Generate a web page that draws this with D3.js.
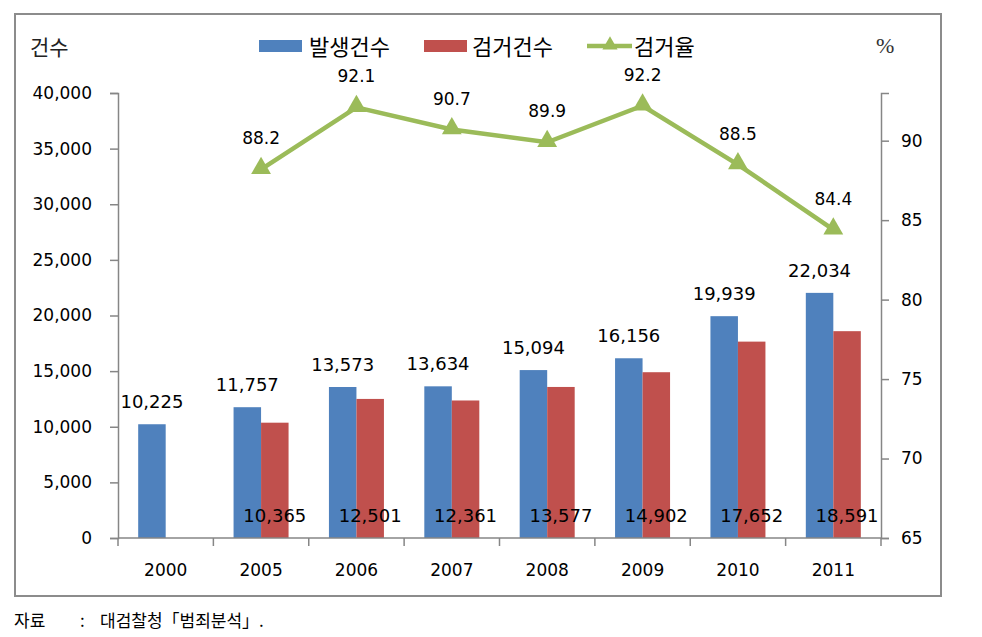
<!DOCTYPE html>
<html><head><meta charset="utf-8">
<script src="https://cdn.jsdelivr.net/npm/d3@7/dist/d3.min.js"></script>
<style>body{margin:0;background:#fff}svg{display:block}</style>
</head><body>
<svg id="c" width="982" height="637"></svg>
<script>
const years = ["2000","2005","2006","2007","2008","2009","2010","2011"];
const occurred = [10225,11757,13573,13634,15094,16156,19939,22034];
const arrested = [null,10365,12501,12361,13577,14902,17652,18591];
const rate = [null,88.2,92.1,90.7,89.9,92.2,88.5,84.4];
const leftTicks = [0,5000,10000,15000,20000,25000,30000,35000,40000];
const rightTicks = [65,70,75,80,85,90];

const svg = d3.select("#c");
const numFont = "DejaVu Sans, Verdana, sans-serif";
const krFont = "Noto Sans CJK KR, sans-serif";
const blue="#4F81BD", red="#C0504D", green="#9BBB59";

// frame
svg.append("rect").attr("x",15).attr("y",14).attr("width",926).attr("height",582)
  .attr("fill","none").attr("stroke","#8c8c8c").attr("stroke-width",2);

const L=118, R=881, T=93, B=538;
const x = d3.scaleBand().domain(years).range([L,R]);
const yL = d3.scaleLinear().domain([0,40000]).range([B,T]);
const yR = d3.scaleLinear().domain([65,93]).range([B,T]);
const fmt = d3.format(",");
const bw = 27.5;

// bars
const g = svg.append("g");
years.forEach((yr,i)=>{
  const c = x(yr)+x.bandwidth()/2;
  g.append("rect").attr("x",c-bw).attr("width",bw).attr("y",yL(occurred[i])).attr("height",B-yL(occurred[i])).attr("fill",blue);
  if(arrested[i]!=null) g.append("rect").attr("x",c).attr("width",bw).attr("y",yL(arrested[i])).attr("height",B-yL(arrested[i])).attr("fill",red);
});

// axes
const axL = svg.append("g").attr("transform",`translate(${L},0)`).call(d3.axisLeft(yL).tickValues(leftTicks).tickFormat(fmt).tickSize(8).tickPadding(18));
const axR = svg.append("g").attr("transform",`translate(${R},0)`).call(d3.axisRight(yR).tickValues(rightTicks).tickSize(8).tickPadding(12));
const axB = svg.append("g").attr("transform",`translate(0,${B})`).call(d3.axisBottom(x).tickSize(0).tickPadding(26));
[axL,axR,axB].forEach(a=>{
  a.selectAll("path,line").attr("stroke","#868686").attr("stroke-width",1.5);
  a.selectAll("text").attr("font-family",numFont).attr("font-size",17).attr("fill","#000");
});
axB.select(".domain").attr("d",`M${L},0H${R}`);
// category separator ticks
const sep = years.map(y=>x(y)).concat([R]);
axB.selectAll(".sep").data(sep).enter().append("line").attr("x1",d=>d).attr("x2",d=>d).attr("y1",0).attr("y2",8).attr("stroke","#868686").attr("stroke-width",1.5);

// line
const pts = years.map((y,i)=>({x:x(y)+x.bandwidth()/2, v:rate[i]})).filter(d=>d.v!=null);
svg.append("path").datum(pts).attr("fill","none").attr("stroke",green).attr("stroke-width",4.5)
  .attr("d",d3.line().x(d=>d.x).y(d=>yR(d.v)));
const tri = d3.symbol().type(d3.symbolTriangle).size(170);
svg.selectAll(".m").data(pts).enter().append("path").attr("d",tri).attr("fill",green)
  .attr("transform",d=>`translate(${d.x},${yR(d.v)-1})`);

// labels
const lab = svg.append("g").attr("font-family",numFont).attr("fill","#000").attr("text-anchor","middle");
years.forEach((yr,i)=>{
  const c = x(yr)+x.bandwidth()/2;
  lab.append("text").attr("x",c-bw/2).attr("y",yL(occurred[i])-16).attr("font-size",18).text(fmt(occurred[i]));
  if(arrested[i]!=null) lab.append("text").attr("x",c+bw/2).attr("y",522).attr("font-size",18).text(fmt(arrested[i]));
  if(rate[i]!=null) lab.append("text").attr("x",c).attr("y",yR(rate[i])-25).attr("font-size",17).text(rate[i].toFixed(1));
});

// unit labels
svg.append("text").attr("x",30).attr("y",55).attr("font-family",krFont).attr("font-size",21).attr("fill","#222").text("건수");
svg.append("text").attr("x",876).attr("y",53).attr("font-family","Liberation Serif, serif").attr("font-size",22).attr("fill","#333").text("%");

// legend
const lg = svg.append("g").attr("font-family",krFont).attr("font-size",22).attr("fill","#000");
lg.append("rect").attr("x",259).attr("y",40).attr("width",43).attr("height",12).attr("fill",blue);
lg.append("text").attr("x",309).attr("y",55).text("발생건수");
lg.append("rect").attr("x",424).attr("y",40).attr("width",43).attr("height",12).attr("fill",red);
lg.append("text").attr("x",472).attr("y",55).text("검거건수");
lg.append("line").attr("x1",587).attr("x2",632).attr("y1",46).attr("y2",46).attr("stroke",green).attr("stroke-width",4.5);
lg.append("path").attr("d",d3.symbol().type(d3.symbolTriangle).size(100)).attr("fill",green).attr("transform","translate(610,45)");
lg.append("text").attr("x",634).attr("y",55).text("검거율");

// source
const src = svg.append("g").attr("font-family",krFont).attr("font-size",17).attr("fill","#000");
src.append("text").attr("x",14).attr("y",627).text("자료");
src.append("text").attr("x",80).attr("y",627).text(":");
src.append("text").attr("x",100).attr("y",627).text("대검찰청「범죄분석」.");
</script>
</body></html>
